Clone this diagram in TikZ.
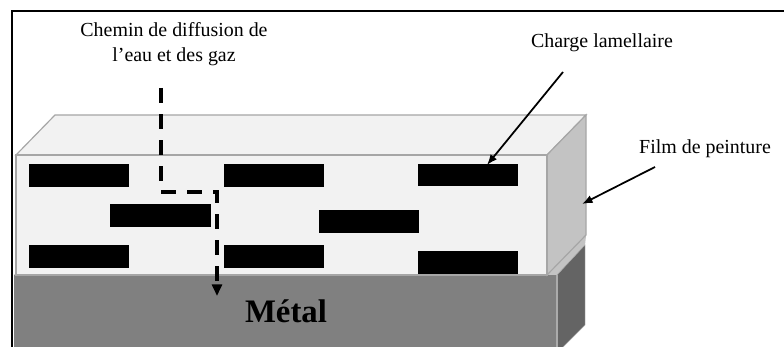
\documentclass[tikz,border=0pt]{standalone}
\usepackage{fontspec}
\setmainfont{Liberation Serif}
\usetikzlibrary{arrows.meta}
\definecolor{filmface}{HTML}{F2F2F2}
\definecolor{filmside}{HTML}{C3C3C3}
\definecolor{filmedge}{HTML}{A6A6A6}
\definecolor{metalface}{HTML}{808080}
\definecolor{metalside}{HTML}{646464}
\definecolor{metaledge}{HTML}{ABABAB}

\begin{document}
\begin{tikzpicture}[x=0.03cm, y=-0.03cm,
		lamelle/.style={fill=black},
		film/.style={fill=filmface, draw=filmedge, line width=1pt},
		legende/.style={font=\fontsize{17}{21.3}\selectfont, align=center, inner sep=0pt},
		fleche/.style={line width=1.5pt, -{Latex[length=9pt,width=7pt]}},
		chemin/.style={line width=3pt, dash pattern=on 12.8pt off 9.4pt, -{Triangle[length=10pt,width=8.5pt]}}]
		\clip (0,0) rectangle (784,347);
		% cadre
		\draw[line width=1.7pt] (12,347) -- (12,11) -- (784,11);
		% metal
		\fill[filmside] (14,275) -- (42,245) -- (586,236) -- (585,245) -- (557,275) -- cycle;
		\filldraw[fill=metalside, draw=metaledge] (557,275) -- (585,245) -- (585,325) -- (557,353) -- cycle;
		\fill[metalface] (14,275) rectangle (557,360);
		\draw[metaledge, line width=1pt] (557,275) -- (557,360);
		% film de peinture
		\filldraw[film] (16,155) -- (55,115) -- (586,115) -- (547,155) -- cycle;
		\filldraw[film, fill=filmside] (547,155) -- (586,115) -- (586,235) -- (547,275) -- cycle;
		\filldraw[film] (16,155) rectangle (547,275);
		% charges lamellaires
		\fill[lamelle] (29,164) rectangle (129,187);
		\fill[lamelle] (224,164) rectangle (324,187);
		\fill[lamelle] (418,164) rectangle (518,186);
		\fill[lamelle] (110,204) rectangle (211,227);
		\fill[lamelle] (319,210) rectangle (419,233);
		\fill[lamelle] (29,245) rectangle (129,268);
		\fill[lamelle] (224,245) rectangle (324,268);
		\fill[lamelle] (418,251) rectangle (518,274);
		% textes
		\node[legende] (txtChemin) at (174,44.5) {Chemin de diffusion de\\l’eau et des gaz};
		\node[legende, anchor=base] (txtCharge) at (602,48) {Charge lamellaire};
		\node[legende, anchor=base] (txtFilm) at (705,154) {Film de peinture};
		\node[anchor=base, inner sep=0pt, font=\bfseries\fontsize{28}{34}\selectfont] (txtMetal) at (286,323) {Métal};
		% chemin de diffusion
		\coordinate (entree) at (161,88);
		\coordinate (coudeA) at (161,192);
		\coordinate (coudeB) at (217,192);
		\coordinate (sortie) at (217,296);
		\draw[chemin] (entree) -- (coudeA) -- (coudeB) -- (sortie);
		% fleches
		\coordinate (chargeDepart) at (563,72);
		\coordinate (chargeBout) at (487,165);
		\coordinate (filmDepart) at (655,167);
		\coordinate (filmBout) at (582,204);
		\draw[fleche] (chargeDepart) -- (chargeBout);
		\draw[fleche] (filmDepart) -- (filmBout);
\end{tikzpicture}
\end{document}
